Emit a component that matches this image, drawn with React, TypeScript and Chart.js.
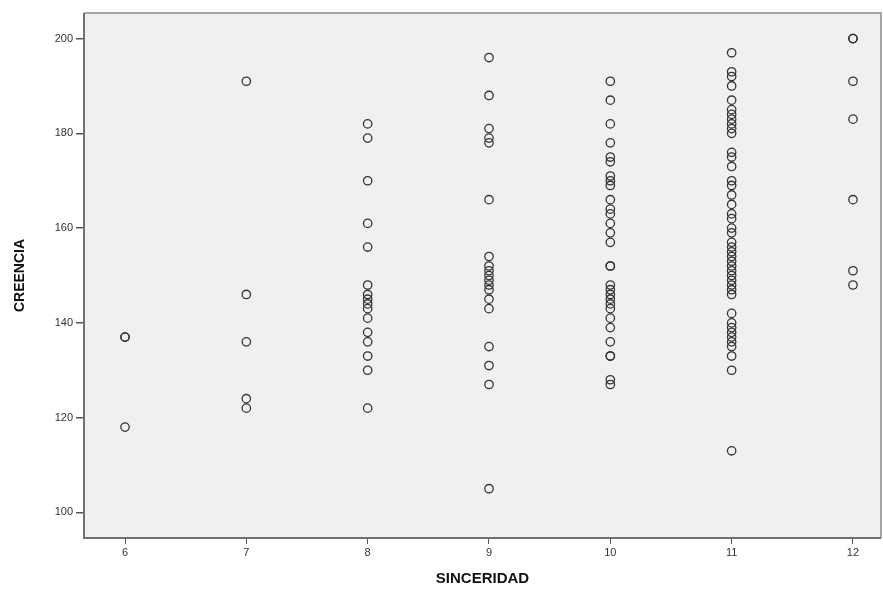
import React, { useEffect, useRef } from "react";
import { Chart, registerables } from "chart.js";

Chart.register(...registerables);

const sinceridad = [6, 7, 8, 9, 10, 11, 12];
const creencia6 = [137, 137, 118];
const creencia7 = [191, 146, 136, 124, 122];
const creencia8 = [182, 179, 170, 161, 156, 148, 146, 145, 144, 143, 141, 138, 136, 133, 130, 122];
const creencia9 = [196, 188, 181, 179, 178, 166, 154, 152, 151, 150, 149, 148, 147, 145, 143, 135, 131, 127, 105];
const creencia10 = [191, 187, 182, 178, 175, 174, 171, 170, 169, 166, 164, 163, 161, 159, 157, 152, 152, 148, 147, 146, 145, 144, 143, 141, 139, 136, 133, 133, 128, 127];
const creencia11 = [197, 193, 192, 190, 187, 185, 184, 183, 182, 181, 180, 176, 175, 173, 170, 169, 167, 165, 163, 162, 160, 159, 157, 156, 155, 154, 153, 152, 151, 150, 149, 148, 147, 146, 142, 140, 139, 138, 137, 136, 135, 133, 130, 113];
const creencia12 = [200, 200, 191, 183, 166, 151, 148];
const xTicks = [6, 7, 8, 9, 10, 11, 12];
const yTicks = [100, 120, 140, 160, 180, 200];

const groups = [creencia6, creencia7, creencia8, creencia9, creencia10, creencia11, creencia12];

export default function App() {
  const ref = useRef<HTMLCanvasElement | null>(null);
  useEffect(() => {
    document.body.style.margin = "0";
    const points: { x: number; y: number }[] = [];
    groups.forEach((g, i) => g.forEach((v) => points.push({ x: sinceridad[i], y: v })));

    const framePlugin = {
      id: "frame",
      beforeDatasetsDraw(chart: any) {
        const { ctx, chartArea: a } = chart;
        ctx.save();
        ctx.fillStyle = "#f0f0f0";
        ctx.fillRect(a.left, a.top, a.right - a.left, a.bottom - a.top);
        ctx.strokeStyle = "#8a8a8a";
        ctx.lineWidth = 1.5;
        ctx.beginPath();
        ctx.moveTo(a.left, a.top);
        ctx.lineTo(a.right, a.top);
        ctx.lineTo(a.right, a.bottom);
        ctx.stroke();
        ctx.strokeStyle = "#707070";
        ctx.lineWidth = 2;
        ctx.beginPath();
        ctx.moveTo(a.left, a.top);
        ctx.lineTo(a.left, a.bottom);
        ctx.lineTo(a.right, a.bottom);
        ctx.stroke();
        ctx.restore();
      },
    };

    const chart = new Chart(ref.current!, {
      type: "scatter",
      data: {
        datasets: [
          {
            data: points,
            pointStyle: "circle",
            pointRadius: 4.2,
            pointBorderWidth: 1.3,
            pointBorderColor: "#333",
            pointBackgroundColor: "rgba(0,0,0,0)",
          },
        ],
      },
      options: {
        animation: false,
        responsive: false,
        maintainAspectRatio: false,
        layout: { autoPadding: false, padding: { top: 13, right: 2, left: 0, bottom: 0 } },
        plugins: { legend: { display: false }, tooltip: { enabled: false } },
        scales: {
          x: {
            type: "linear",
            min: 5.662,
            max: 12.231,
            afterBuildTicks: (s: any) => {
              s.ticks = xTicks.map((v) => ({ value: v }));
            },
            afterFit: (s: any) => {
              s.height = 54;
              s.paddingLeft = 0;
              s.paddingRight = 0;
            },
            border: { display: false },
            grid: { drawOnChartArea: false, drawTicks: true, tickLength: 6, color: "#555", lineWidth: 1 },
            ticks: { color: "#333", font: { family: "Arial, Liberation Sans", size: 11 }, padding: 2 },
            title: {
              display: true,
              text: "SINCERIDAD",
              color: "#111",
              font: { family: "Arial, Liberation Sans", size: 15, weight: "bold" },
              padding: { top: 0, bottom: 4 },
            },
          },
          y: {
            type: "linear",
            min: 94.6,
            max: 205.4,
            afterBuildTicks: (s: any) => {
              s.ticks = yTicks.map((v) => ({ value: v }));
            },
            afterFit: (s: any) => {
              s.width = 84;
              s.paddingTop = 0;
              s.paddingBottom = 0;
            },
            border: { display: false },
            grid: { drawOnChartArea: false, drawTicks: true, tickLength: 8, color: "#555", lineWidth: 1.5 },
            ticks: { color: "#333", font: { family: "Arial, Liberation Sans", size: 11 }, padding: 3 },
            title: {
              display: true,
              text: "CREENCIA",
              color: "#111",
              font: { family: "Arial, Liberation Sans", size: 14, weight: "bold" },
              padding: { top: 12, bottom: 0 },
            },
          },
        },
      },
      plugins: [framePlugin],
    });
    return () => chart.destroy();
  }, []);
  return (
    <div style={{ width: 883, height: 592, background: "#fff" }}>
      <canvas ref={ref} width={883} height={592} style={{ display: "block", width: 883, height: 592 }} />
    </div>
  );
}
